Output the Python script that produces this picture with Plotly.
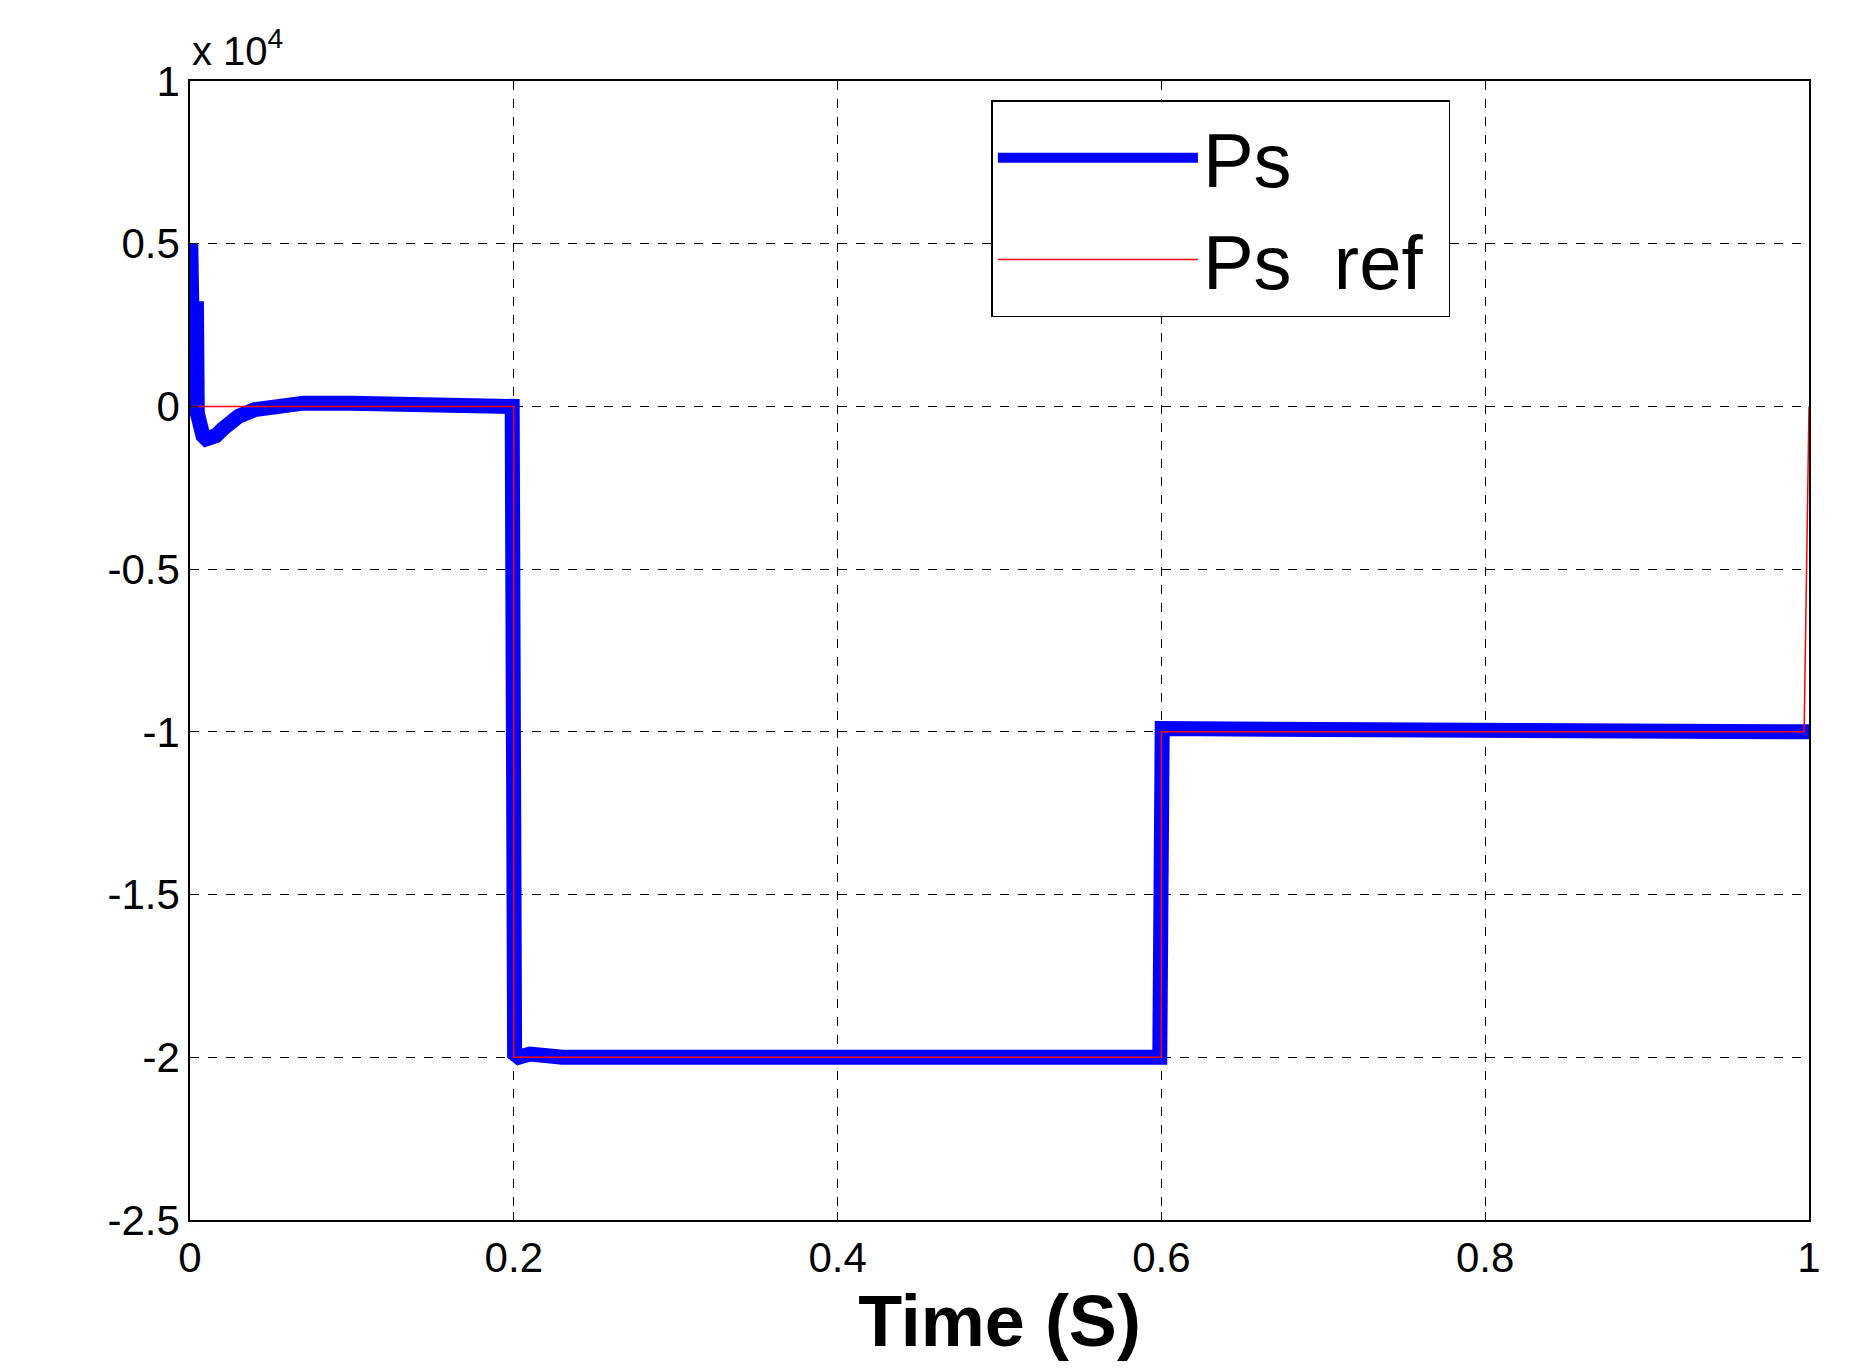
import plotly.graph_objects as go

# Ps measured (values in units of 1e4 W)
ps_t = [0, 0.0005, 0.001, 0.0015, 0.002, 0.003, 0.004, 0.0045, 0.005, 0.006, 0.008, 0.010, 0.013, 0.016, 0.020,
        0.025, 0.030, 0.040, 0.050, 0.070, 0.100, 0.150, 0.199, 0.2005, 0.203, 0.210, 0.230,
        0.300, 0.400, 0.500, 0.599, 0.6005, 0.603, 0.610, 0.700, 0.800, 0.900, 1.0]
ps_v = [0, 0.5, 0.48, 0.05, 0.02, 0.3, 0.3, -0.02, -0.04, -0.07, -0.09, -0.1, -0.1, -0.09, -0.07,
        -0.05, -0.03, -0.01, 0, 0.01, 0.01, 0.005, 0, -1.99, -2.0, -1.99, -2.0,
        -2.0, -2.0, -2.0, -2.0, -0.99, -0.99, -0.995, -1.0, -1.0, -1.0, -1.0]
# Ps reference
ref_t = [0, 0.2, 0.2, 0.6, 0.6, 0.997, 1.0]
ref_v = [0, 0, -2.0, -2.0, -1.0, -1.0, 0]

font = "Liberation Sans"
fig = go.Figure()
fig.add_trace(go.Scatter(x=ps_t, y=ps_v, mode="lines", name="Ps\u00a0\u00a0\u00a0\u00a0\u00a0\u00a0\u00a0",
                         line=dict(color="#0000ff", width=15)))
fig.add_trace(go.Scatter(x=ref_t, y=ref_v, mode="lines", name="Ps  ref\u00a0",
                         line=dict(color="#ff0000", width=1.5)))
axis = dict(showline=True, linecolor="black", linewidth=1.5, mirror=True,
            showgrid=True, gridcolor="black", griddash="dash", gridwidth=1,
            zeroline=False, ticks="inside", ticklen=8, tickcolor="black",
            tickfont=dict(family=font, size=42, color="black"))
fig.update_xaxes(range=[0, 1], tickvals=[0, 0.2, 0.4, 0.6, 0.8, 1],
                 ticktext=["0", "0.2", "0.4", "0.6", "0.8", "1"],
                 title=dict(text="<b>Time (S)</b>", font=dict(family=font, size=72, color="black"), standoff=8),
                 **axis)
fig.update_yaxes(range=[-2.5, 1], tickvals=[-2.5, -2, -1.5, -1, -0.5, 0, 0.5, 1],
                 ticktext=["-2.5", "-2", "-1.5", "-1", "-0.5", "0", "0.5", "1"], **axis)
fig.add_annotation(xref="paper", yref="paper", x=0.0, y=1.005, xanchor="left", yanchor="bottom",
                   text="x 10<sup>4</sup>", showarrow=False, font=dict(family=font, size=40, color="black"))
fig.update_layout(width=1855, height=1371, plot_bgcolor="white", paper_bgcolor="white",
                  margin=dict(l=182, r=54, t=73, b=159),
                  legend=dict(x=0.495, y=0.983, xanchor="left", yanchor="top",
                              bordercolor="black", borderwidth=1.5, bgcolor="white",
                              font=dict(family=font, size=76, color="black"), itemwidth=200))
fig.write_html("out.html")
